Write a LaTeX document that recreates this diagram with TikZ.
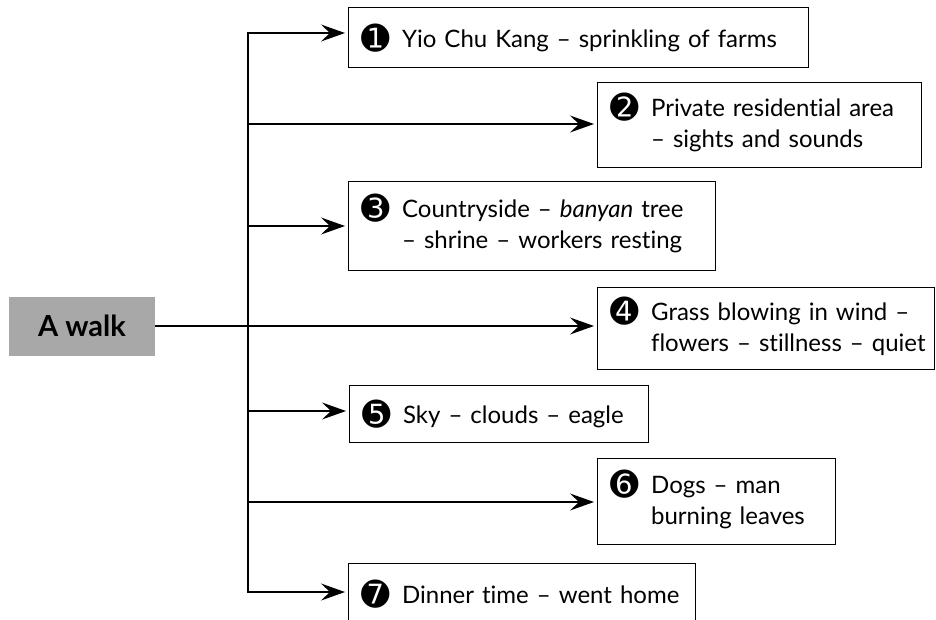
\documentclass[tikz,border=0pt]{standalone}
\usepackage{fontspec}
\setmainfont{Lato}[Ligatures={TeX,NoCommon}]
\newfontfamily\dvfont{DejaVu Sans}
\usetikzlibrary{arrows.meta}
\newcommand\cnum[1]{\raisebox{-3pt}{\dvfont\fontsize{34}{34}\selectfont #1}}
\newcommand\twoline[3]{\begin{tabular}{@{}l@{\hspace{12pt}}l@{}}\cnum{#1} & #2\\ & #3\end{tabular}}
\begin{document}
\begin{tikzpicture}[x=1pt,y=-1pt,
  box/.style={draw,line width=1.3pt,anchor=north west,inner xsep=13pt,inner ysep=0pt,align=left,font=\fontsize{24}{31}\selectfont},
  walkbox/.style={fill=black!34,draw=none,minimum width=146pt,minimum height=59pt,inner sep=0pt,font=\bfseries\fontsize{29}{29}\selectfont},
  arr/.style={line width=1.3pt,-{Stealth[length=24pt,width=17pt,inset=9pt]},shorten >=3pt},
  trunk/.style={line width=1.3pt,line cap=rect}]
\useasboundingbox (0,0) rectangle (936,619);
\clip (0,0) rectangle (936,619);
\node[walkbox] (w) at (82,326) {A walk};
\node[box,minimum width=460pt,minimum height=60pt,text width=434pt] (b1) at (348,7) {\mbox{\cnum{➊}\hspace{12pt}Yio Chu Kang – sprinkling of farms}};
\node[box,minimum width=324pt,minimum height=85pt,text width=298pt] (b2) at (597,82) {\twoline{➋}{Private residential area}{– sights and sounds}};
\node[box,minimum width=367pt,minimum height=89pt,text width=341pt] (b3) at (348,181) {\twoline{➌}{Countryside – \textit{banyan} tree}{– shrine – workers resting}};
\node[box,minimum width=337pt,minimum height=82pt,text width=311pt] (b4) at (597,287) {\twoline{➍}{Grass blowing in wind –}{flowers – stillness – quiet}};
\node[box,minimum width=299pt,minimum height=57pt,text width=273pt] (b5) at (349,385) {\mbox{\cnum{➎}\hspace{12pt}Sky – clouds – eagle}};
\node[box,minimum width=238pt,minimum height=86pt,text width=212pt] (b6) at (597,458) {\twoline{➏}{Dogs – man}{burning leaves}};
\node[box,minimum width=347pt,minimum height=60pt,text width=321pt] (b7) at (348,563) {\mbox{\cnum{➐}\hspace{12pt}Dinner time – went home}};
\coordinate (t1) at (248,33);
\coordinate (t2) at (248,124);
\coordinate (t3) at (248,226);
\coordinate (t5) at (248,411);
\coordinate (t6) at (248,502);
\coordinate (t7) at (248,592);
\draw[trunk] (t1) -- (t7);
\draw[arr] (t1) -- (t1 -| b1.west);
\draw[arr] (t2) -- (t2 -| b2.west);
\draw[arr] (t3) -- (t3 -| b3.west);
\draw[arr] (w.east) -- (w.east -| b4.west);
\draw[arr] (t5) -- (t5 -| b5.west);
\draw[arr] (t6) -- (t6 -| b6.west);
\draw[arr] (t7) -- (t7 -| b7.west);
\end{tikzpicture}
\end{document}
